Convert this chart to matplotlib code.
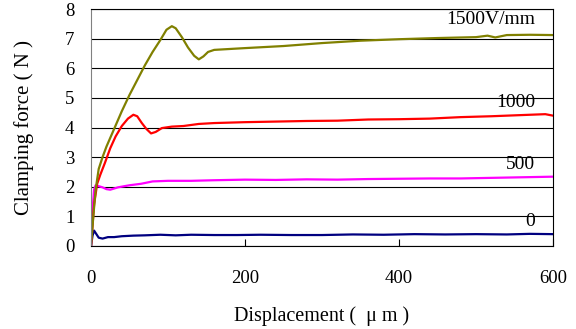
import matplotlib.pyplot as plt

# Clamping force vs displacement for several field strengths
x_0 = [0, 2, 4, 7, 10, 15, 22, 30, 40, 55, 70, 90, 110, 130, 160, 190, 220, 260, 300, 340,
       380, 420, 460, 500, 540, 570, 600]
y_0 = [0.0, 0.35, 0.52, 0.4, 0.28, 0.25, 0.3, 0.3, 0.33, 0.35, 0.36, 0.38, 0.36, 0.38, 0.37,
       0.37, 0.38, 0.37, 0.37, 0.39, 0.38, 0.4, 0.39, 0.4, 0.39, 0.41, 0.4]

x_500 = [0, 2, 4, 6, 10, 15, 20, 25, 35, 50, 65, 80, 100, 130, 160, 200, 240, 280, 320,
         360, 400, 440, 480, 520, 560, 600]
y_500 = [0.0, 1.2, 1.9, 2.05, 2.02, 1.98, 1.92, 1.9, 1.98, 2.05, 2.1, 2.18, 2.2, 2.2, 2.22,
         2.24, 2.23, 2.25, 2.24, 2.26, 2.27, 2.28, 2.28, 2.3, 2.32, 2.34]

x_1000 = [0, 4, 8, 12, 18, 25, 32, 40, 48, 55, 60, 66, 72, 78, 84, 92, 105, 120, 140, 160,
          200, 240, 280, 320, 360, 400, 440, 480, 520, 560, 590, 600]
y_1000 = [0.0, 1.4, 2.1, 2.4, 2.8, 3.3, 3.7, 4.05, 4.3, 4.43, 4.38, 4.15, 3.95, 3.8, 3.85,
          3.98, 4.03, 4.05, 4.12, 4.15, 4.18, 4.2, 4.22, 4.23, 4.27, 4.28, 4.3, 4.35, 4.38,
          4.42, 4.45, 4.4]

x_1500 = [0, 3, 6, 10, 15, 20, 30, 40, 50, 60, 70, 80, 90, 98, 105, 110, 118, 126, 134,
          140, 146, 152, 160, 180, 200, 250, 300, 350, 400, 450, 500, 515, 525, 540, 570, 600]
y_1500 = [0.0, 1.0, 1.9, 2.6, 3.0, 3.35, 3.95, 4.55, 5.1, 5.6, 6.1, 6.55, 6.95, 7.3, 7.42,
          7.35, 7.05, 6.7, 6.42, 6.3, 6.4, 6.55, 6.62, 6.65, 6.68, 6.75, 6.85, 6.93, 6.98,
          7.02, 7.05, 7.1, 7.04, 7.12, 7.13, 7.12]

series = [
    (x_0, y_0, "#000080", "0", 0.54),
    (x_500, y_500, "#FF00FF", "500", 2.46),
    (x_1000, y_1000, "#FF0000", "1000", 4.56),
    (x_1500, y_1500, "#808000", "1500V/mm", 7.36),
]

plt.rcParams["font.family"] = ["Liberation Serif", "DejaVu Serif"]

fig = plt.figure(figsize=(5.76, 3.29), dpi=100)
ax = fig.add_axes([91 / 576, 1 - 246 / 329, 462 / 576, 237 / 329])

for xs, ys, color, label, label_y in series:
    ax.plot(xs, ys, color=color, linewidth=1.6)
    ax.text(577, label_y, label, ha="right", va="bottom", fontsize=14)

ax.set_xlim(0, 600)
ax.set_ylim(0, 8)
ax.set_xticks([0, 200, 400, 600])
ax.set_yticks(range(0, 9))
ax.grid(axis="y", color="black", linewidth=0.8)
ax.tick_params(axis="x", direction="in", length=5, labelsize=13.5, pad=17)
ax.tick_params(axis="y", length=0, labelsize=13.5, pad=12)
for side in ["top", "right", "bottom"]:
    ax.spines[side].set_color("black")
ax.spines["left"].set_color("#808080")

ax.set_xlabel("Displacement (  μ m )", fontsize=14.5, labelpad=14)
ax.set_ylabel("Clamping force ( N )", fontsize=15, labelpad=22)

fig.savefig("out.png", dpi=100)
